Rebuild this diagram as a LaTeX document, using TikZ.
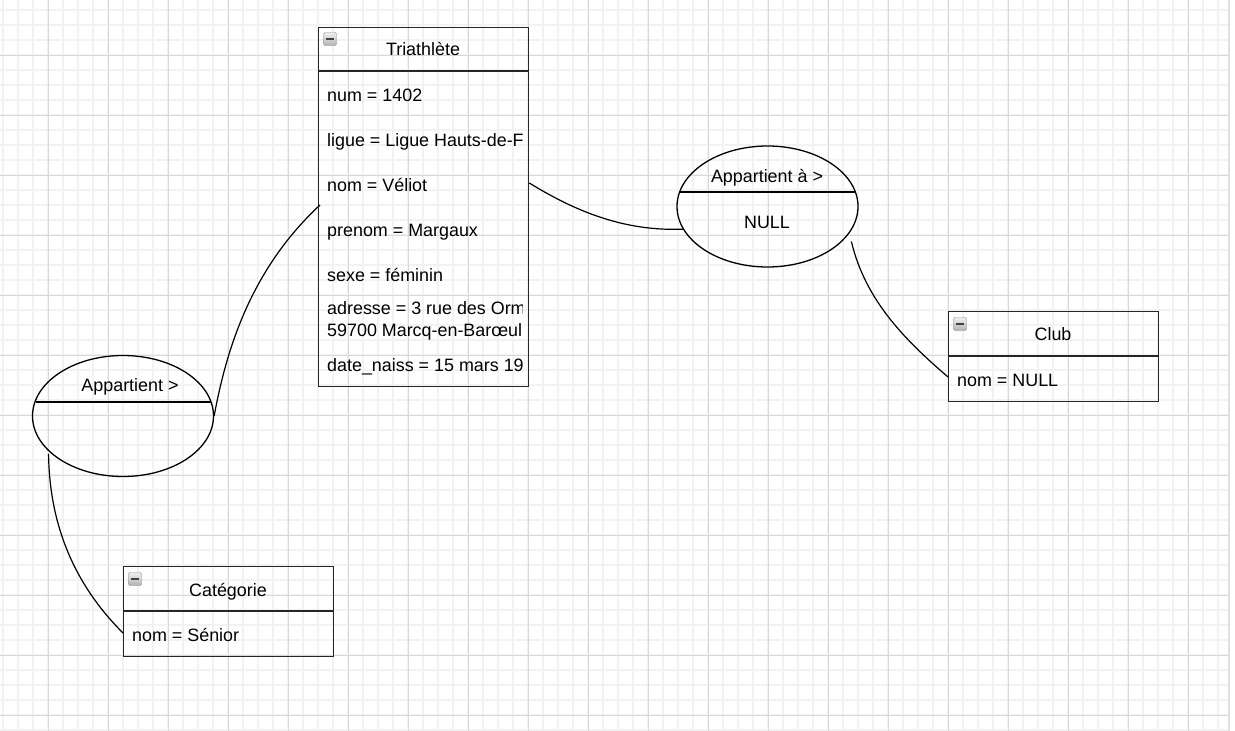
\documentclass[tikz,border=0pt]{standalone}
\usepackage{fontspec}
\setmainfont{Liberation Sans}
\usetikzlibrary{shapes.geometric}
\begin{document}
\begin{tikzpicture}[x=1pt, y=-1pt,
    every node/.style={font=\fontsize{17.9}{22}\selectfont},
    minorgrid/.style={draw=black!5, line width=1.2pt},
    majorgrid/.style={draw=black!15, line width=0.8pt},
    entity/.style={draw=black!85, line width=1.3pt, rectangle, minimum width=210pt, inner sep=0pt, anchor=north west},
    sep/.style={draw=black!85, line width=1.3pt},
    rel/.style={draw=black, line width=1.3pt, ellipse, minimum width=181pt, minimum height=121pt, inner sep=0pt},
    title/.style={anchor=base, inner sep=0pt},
    attr/.style={anchor=base west, inner sep=0pt},
    minusbox/.style={draw=black!45, rounded corners=1.5pt, minimum size=13pt, inner sep=0pt, top color=black!6, bottom color=black!30},
    minusdash/.style={draw=black!75, line width=1.6pt},
    link/.style={draw=black, line width=1.2pt}]

    % Page and grid
    \useasboundingbox (0,0) rectangle (1235,731);
    \fill[white] (0,0) rectangle (1235,731);
    \foreach \x in {3,18,...,1218} \draw[minorgrid] (\x,0) -- (\x,731);
    \foreach \y in {10,25,...,730} \draw[minorgrid] (0,\y) -- (1228,\y);
    \foreach \x in {48,108,...,1188} \draw[majorgrid] (\x,0) -- (\x,731);
    \foreach \y in {55,115,...,715} \draw[majorgrid] (0,\y) -- (1228,\y);
    \draw[draw=black!12, line width=2pt] (1229,0) -- (1229,731);

    % Triathlete entity
    \node[entity, minimum height=359pt] (tri) at (318,27) {};
    \draw[sep] ([yshift=-44pt]tri.north west) -- ([yshift=-44pt]tri.north east);
    \node[minusbox] (trimin) at (330,39) {};
    \draw[minusdash] ([xshift=-4pt]trimin.center) -- ([xshift=4pt]trimin.center);
    \node[title] (trititle) at (423,55) {Triathlète};
    \begin{scope}
        \clip (318,27) rectangle (522,386);
        \node[attr] (num) at (327,101) {num = 1402};
        \node[attr] (ligue) at (327,146) {ligue = Ligue Hauts-de-F};
        \node[attr] (nom) at (327,191) {nom = Véliot};
        \node[attr] (prenom) at (327,236) {prenom = Margaux};
        \node[attr] (sexe) at (327,281) {sexe = féminin};
        \node[attr] (adr1) at (327,314) {adresse = 3 rue des Orm};
        \node[attr] (adr2) at (327,336) {59700 Marcq-en-Barœul};
        \node[attr] (naiss) at (327,371) {date\_naiss = 15 mars 19};
    \end{scope}

    % Club entity
    \node[entity, minimum height=90pt] (club) at (948,311) {};
    \draw[sep] ([yshift=-45pt]club.north west) -- ([yshift=-45pt]club.north east);
    \node[minusbox] (clubmin) at (960,324) {};
    \draw[minusdash] ([xshift=-4pt]clubmin.center) -- ([xshift=4pt]clubmin.center);
    \node[title] (clubtitle) at (1053,340) {Club};
    \node[attr] (clubnom) at (957,386) {nom = NULL};

    % Categorie entity
    \node[entity, minimum height=90pt] (cat) at (123,566) {};
    \draw[sep] ([yshift=-45pt]cat.north west) -- ([yshift=-45pt]cat.north east);
    \node[minusbox] (catmin) at (135,579) {};
    \draw[minusdash] ([xshift=-4pt]catmin.center) -- ([xshift=4pt]catmin.center);
    \node[title] (cattitle) at (228,596) {Catégorie};
    \node[attr] (catnom) at (132,641) {nom = Sénior};

    % Relation towards Categorie
    \node[rel] (app1) at (123,416) {};
    \draw[sep, draw=black] (35.5,402) -- (210.5,402);
    \node[title] (app1label) at (130,391) {Appartient >};

    % Relation towards Club
    \node[rel] (app2) at (767.5,206.5) {};
    \draw[sep, draw=black] (680,192) -- (855,192);
    \node[title] (app2label) at (767,182) {Appartient à >};
    \node[title] (app2value) at (767,228) {NULL};

    % Links
    \draw[link] ([yshift=-156pt]tri.north east) .. controls +(52,32) and +(-54,2) .. (app2.195);
    \draw[link] ([xshift=9pt]app2.335) .. controls +(14,59) and +(-43,-37) .. ([yshift=-66pt]club.north west);
    \draw[link] ([xshift=2pt,yshift=-178pt]tri.north west) .. controls +(-70,65) and +(12,-65) .. (app1.east);
    \draw[link] ([xshift=-3pt]app1.208) .. controls +(1,85) and +(-38,-38) .. ([yshift=-67pt]cat.north west);

\end{tikzpicture}
\end{document}
